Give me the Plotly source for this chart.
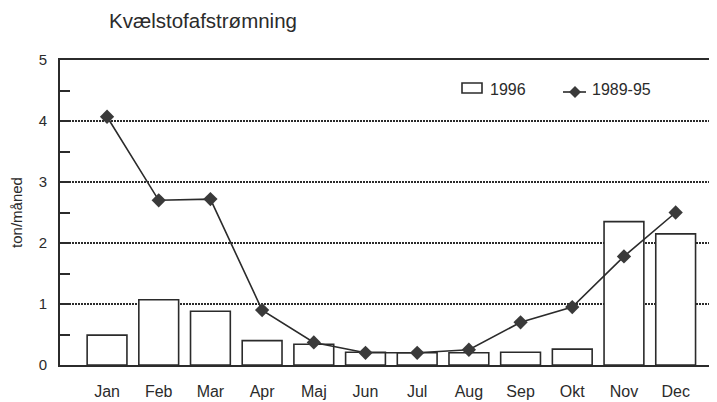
import plotly.graph_objects as go

months = ["Jan", "Feb", "Mar", "Apr", "Maj", "Jun", "Jul", "Aug", "Sep", "Okt", "Nov", "Dec"]
values_1996 = [0.49, 1.07, 0.88, 0.40, 0.34, 0.21, 0.20, 0.20, 0.21, 0.26, 2.35, 2.15]
values_1989_95 = [4.07, 2.70, 2.72, 0.90, 0.37, 0.20, 0.20, 0.25, 0.70, 0.95, 1.78, 2.50]

FONT = "Liberation Sans, Arial, sans-serif"
INK = "#2b2b2b"

OFF = 8  # default page body margin
W, H = 717 - OFF, 402 - OFF
# plot area in page pixels: left 60, top 60, bottom 365, right 717
L, R, T, B = 60 - OFF, 0, 60 - OFF, 402 - 365
PW, PH = W - L - R, H - T - B


def px(x):
    return (x - OFF - L) / PW


def py(y):
    return (H - B - (y - OFF)) / PH


fig = go.Figure()
fig.add_trace(go.Bar(
    x=months, y=values_1996, name="1996", width=0.77,
    marker=dict(color="white", line=dict(color=INK, width=1.6)),
))
fig.add_trace(go.Scatter(
    x=months, y=values_1989_95, name="1989-95", mode="lines+markers",
    line=dict(color=INK, width=1.6),
    marker=dict(symbol="diamond", size=11, color="#3a3a3a"),
))

# manual legend
shapes = [
    dict(type="rect", xref="paper", yref="paper", x0=px(462), x1=px(482), y0=py(93), y1=py(83),
         line=dict(color=INK, width=1.6), fillcolor="white"),
    dict(type="line", xref="paper", yref="paper", x0=px(563), x1=px(586), y0=py(92), y1=py(92),
         line=dict(color=INK, width=1.6)),
    dict(type="path", xref="paper", yref="paper",
         path=f"M {px(575)} {py(86)} L {px(581)} {py(92)} L {px(575)} {py(98)} L {px(569)} {py(92)} Z",
         line=dict(color="#3a3a3a", width=0), fillcolor="#3a3a3a"),
]
annotations = [
    dict(text="1996", xref="paper", yref="paper", x=px(488), y=py(89), xanchor="left", yanchor="middle",
         showarrow=False, font=dict(size=16, color=INK)),
    dict(text="1989-95", xref="paper", yref="paper", x=px(590), y=py(89), xanchor="left", yanchor="middle",
         showarrow=False, font=dict(size=16, color=INK)),
]

fig.update_layout(
    width=W, height=H,
    margin=dict(l=L, r=R, t=T, b=B),
    paper_bgcolor="white", plot_bgcolor="white",
    font=dict(family=FONT, size=15, color=INK),
    showlegend=False,
    shapes=shapes,
    annotations=annotations,
    title=dict(text="Kvælstofafstrømning", x=(109 - OFF) / W, xanchor="left",
               y=1 - (21 - OFF) / H, yanchor="middle", font=dict(size=20.5, color=INK)),
    xaxis=dict(
        type="category", range=[-0.91, 11.8], automargin=False,
        showline=True, linecolor=INK, linewidth=2, mirror=True,
        ticks="", showgrid=False, tickfont=dict(size=16), ticklabelstandoff=11,
    ),
    yaxis=dict(
        range=[0, 5], dtick=1, automargin=False,
        showline=True, linecolor=INK, linewidth=2,
        ticks="inside", ticklen=10, tickcolor=INK, tickwidth=2,
        minor=dict(dtick=0.5, ticks="inside", ticklen=10, tickcolor=INK, tickwidth=2),
        showgrid=True, gridcolor=INK, griddash="1.5px,1.5px", gridwidth=1.5,
        zeroline=False, tickfont=dict(size=15), ticklabelstandoff=8,
        title=dict(text="ton/måned", font=dict(size=15), standoff=14),
    ),
)

fig.write_html("out.html")
